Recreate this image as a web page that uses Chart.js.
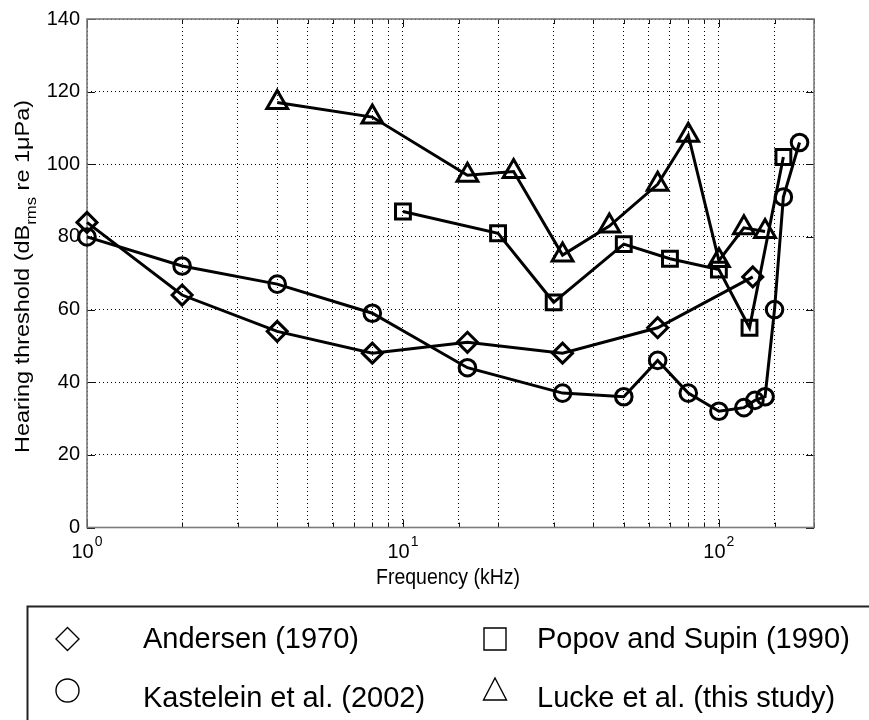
<!DOCTYPE html>
<html>
<head>
<meta charset="utf-8">
<script src="https://cdn.jsdelivr.net/npm/chart.js@4.4.0/dist/chart.umd.min.js"></script>
<style>
  html, body { margin: 0; padding: 0; background: #fff; }
  #wrap { width: 869px; height: 720px; }
</style>
</head>
<body>
<div id="wrap"><canvas id="chart" width="869" height="720"></canvas></div>
<script>
// frequency (kHz) and hearing threshold (dB rms re 1 uPa) for each study
const freqAndersen = [1, 2, 4, 8, 16, 32, 64, 128];
const thrAndersen = [84, 64, 54, 48, 51, 48, 55, 69];

const freqPopov = [10, 20, 30, 50, 70, 100, 125, 160];
const thrPopov = [87, 81, 62, 78, 74, 71, 55, 102];

const freqKastelein = [1, 2, 4, 8, 16, 32, 50, 64, 80, 100, 120, 130, 140, 150, 160, 180];
const thrKastelein = [80, 72, 67, 59, 44, 37, 36, 46, 37, 32, 33, 35, 36, 60, 91, 106];

const freqLucke = [4, 8, 16, 22.4, 32, 45, 64, 80, 100, 120, 140];
const thrLucke = [117, 113, 97, 98, 75, 83, 94.5, 108, 73.5, 82.5, 81.5];

// legend order: Andersen, Popov / Kastelein, Lucke
const seriesNames = ['Andersen (1970)', 'Popov and Supin (1990)', 'Kastelein et al. (2002)', 'Lucke et al. (this study)'];

const yTicks = [0, 20, 40, 60, 80, 100, 120, 140];
const xDecades = [1, 10, 100];
const xExponents = ['0', '1', '2'];

const FONT = '"Liberation Sans", Arial, Helvetica, sans-serif';

function pts(xs, ys) {
    return xs.map((x, i) => ({ x: x, y: ys[i] }));
}

function series(label, xs, ys, style, radius) {
    return {
        label: label,
        data: pts(xs, ys),
        borderColor: '#000',
        borderWidth: 3,
        backgroundColor: 'rgba(0,0,0,0)',
        pointStyle: style,
        pointRadius: radius,
        pointBorderWidth: 3,
        pointBorderColor: '#000',
        pointBackgroundColor: 'rgba(0,0,0,0)',
        tension: 0,
        clip: false
    };
}

// draws text squeezed/stretched to a given width
function fitText(ctx, text, x, y, width) {
    const w = ctx.measureText(text).width;
    ctx.save();
    ctx.translate(x, y);
    ctx.scale(width / w, 1);
    ctx.fillText(text, 0, 0);
    ctx.restore();
}

function legendMarker(ctx, style, cx, cy) {
    ctx.beginPath();
    if (style === 'rectRot') {
        ctx.moveTo(cx, cy - 11.5); ctx.lineTo(cx + 11.5, cy);
        ctx.lineTo(cx, cy + 11.5); ctx.lineTo(cx - 11.5, cy);
        ctx.closePath();
    } else if (style === 'circle') {
        ctx.arc(cx, cy, 11.5, 0, Math.PI * 2);
    } else if (style === 'rect') {
        ctx.rect(cx - 11, cy - 11, 22, 22);
    } else {
        ctx.moveTo(cx, cy - 12.5); ctx.lineTo(cx + 11.5, cy + 9.5);
        ctx.lineTo(cx - 11.5, cy + 9.5);
        ctx.closePath();
    }
    ctx.stroke();
}

const frame = {
    id: 'frame',
    beforeDatasetsDraw(chart) {
        const ctx = chart.ctx;
        const a = chart.chartArea;
        const xs = chart.scales.x, ys = chart.scales.y;
        ctx.save();
        // inward tick marks
        ctx.strokeStyle = '#111';
        ctx.lineWidth = 1;
        ctx.beginPath();
        xs.ticks.forEach(t => {
            const px = Math.round(xs.getPixelForValue(t.value)) + 0.5;
            const dec = Math.abs(Math.log10(t.value) % 1) < 1e-6;
            const len = dec ? 8 : 5;
            ctx.moveTo(px, a.bottom); ctx.lineTo(px, a.bottom - len);
            ctx.moveTo(px, a.top); ctx.lineTo(px, a.top + len);
        });
        ys.ticks.forEach(t => {
            const py = Math.round(ys.getPixelForValue(t.value)) + 0.5;
            ctx.moveTo(a.left, py); ctx.lineTo(a.left + 8, py);
            ctx.moveTo(a.right, py); ctx.lineTo(a.right - 8, py);
        });
        ctx.stroke();
        // axes box
        ctx.strokeStyle = '#7a7a7a';
        ctx.lineWidth = 1.6;
        ctx.strokeRect(a.left, a.top, a.right - a.left, a.bottom - a.top);
        ctx.restore();
    },
    afterDraw(chart) {
        const ctx = chart.ctx;
        const xs = chart.scales.x;
        ctx.save();
        ctx.fillStyle = '#000';
        ctx.textAlign = 'left';
        ctx.textBaseline = 'alphabetic';

        // x tick labels 10^n
        xDecades.forEach((v, i) => {
            const px = xs.getPixelForValue(v);
            ctx.font = '20px ' + FONT;
            const wb = ctx.measureText('10').width;
            ctx.font = '14px ' + FONT;
            const we = ctx.measureText(xExponents[i]).width;
            const x0 = px - (wb + we + 1) / 2;
            ctx.font = '20px ' + FONT;
            ctx.fillText('10', x0, 558);
            ctx.font = '14px ' + FONT;
            ctx.fillText(xExponents[i], x0 + wb + 1, 546);
        });

        // x axis title
        ctx.font = '22px ' + FONT;
        fitText(ctx, 'Frequency (kHz)', 376, 584, 144);

        // y axis title with subscript
        const p1 = 'Hearing threshold (dB', sub = 'rms', p3 = ' re 1\u03bcPa)';
        ctx.font = '21px ' + FONT;
        const w1 = ctx.measureText(p1).width, w3 = ctx.measureText(p3).width;
        ctx.font = '15px ' + FONT;
        const w2 = ctx.measureText(sub).width;
        const total = w1 + w2 + w3;
        const len = 353;
        ctx.save();
        ctx.translate(28.5, 276.5);
        ctx.rotate(-Math.PI / 2);
        ctx.scale(len / total, 1);
        ctx.translate(-total / 2, 0);
        ctx.font = '21px ' + FONT;
        ctx.fillText(p1, 0, 0);
        ctx.font = '15px ' + FONT;
        ctx.fillText(sub, w1, 7);
        ctx.font = '21px ' + FONT;
        ctx.fillText(p3, w1 + w2, 0);
        ctx.restore();

        // legend box
        ctx.strokeStyle = '#222';
        ctx.lineWidth = 2;
        ctx.strokeRect(27.5, 606.5, 900, 200);
        const mxs = [67.5, 495], txs = [143, 537];
        const mys = [639, 690.5], tys = [648, 707];
        chart.data.datasets.forEach((ds, i) => {
            const col = i % 2, row = Math.floor(i / 2);
            ctx.strokeStyle = '#000';
            ctx.lineWidth = 1.4;
            legendMarker(ctx, ds.pointStyle, mxs[col], mys[row]);
            ctx.font = '29px ' + FONT;
            ctx.fillText(ds.label, txs[col], tys[row]);
        });
        ctx.restore();
    }
};

const chart = new Chart(document.getElementById('chart').getContext('2d'), {
    type: 'line',
    data: {
        datasets: [
            series(seriesNames[0], freqAndersen, thrAndersen, 'rectRot', 10),
            series(seriesNames[1], freqPopov, thrPopov, 'rect', 10.5),
            series(seriesNames[2], freqKastelein, thrKastelein, 'circle', 8.3),
            series(seriesNames[3], freqLucke, thrLucke, 'triangle', 12)
        ]
    },
    options: {
        responsive: false,
        animation: false,
        layout: { padding: { top: 19, right: 55, left: 0, bottom: 0 } },
        plugins: {
            legend: { display: false },
            tooltip: { enabled: false }
        },
        scales: {
            x: {
                type: 'logarithmic',
                min: 1,
                max: 200,
                afterFit: s => { s.height = 192.5; },
                ticks: { display: false, autoSkip: false },
                grid: { color: '#000', lineWidth: 1, drawTicks: false },
                border: { display: false, dash: [1, 3] }
            },
            y: {
                min: 0,
                max: 140,
                afterFit: s => { s.width = 87; },
                afterBuildTicks: s => { s.ticks = yTicks.map(v => ({ value: v })); },
                ticks: {
                    color: '#000',
                    padding: 7,
                    font: { size: 20, family: FONT }
                },
                grid: { color: '#000', lineWidth: 1, drawTicks: false },
                border: { display: false, dash: [1, 3] }
            }
        }
    },
    plugins: [frame]
});
</script>
</body>
</html>
